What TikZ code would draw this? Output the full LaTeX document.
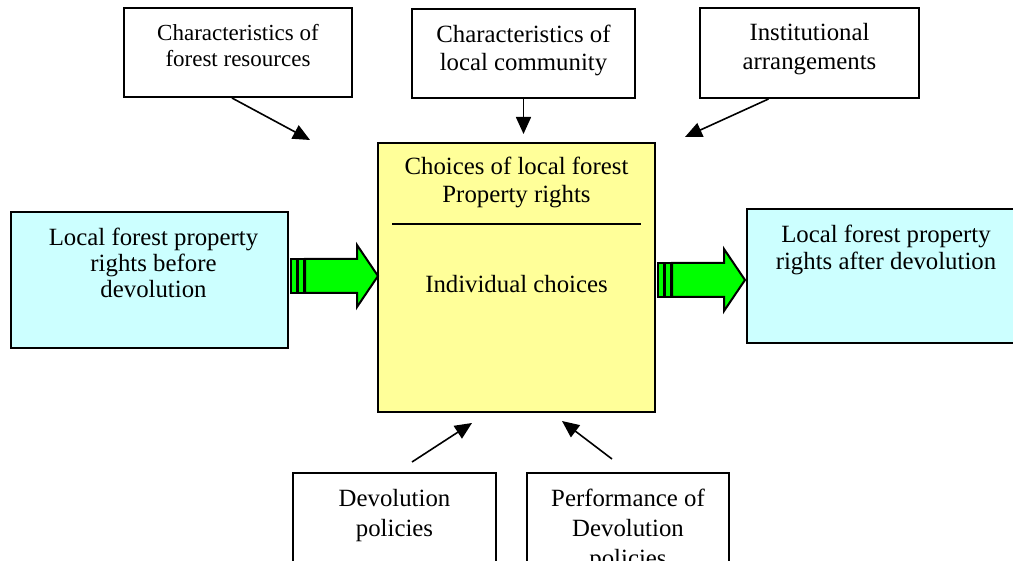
\documentclass[tikz,border=0pt]{standalone}
\usepackage{fontspec}
\setmainfont{Liberation Serif}
\usepackage{tikz}
\usetikzlibrary{arrows.meta, positioning, fit, calc}
\definecolor{rcyan}{RGB}{204,255,255}
\definecolor{ryellow}{RGB}{255,255,153}
\definecolor{rgreen}{RGB}{0,255,0}

\begin{document}
\begin{tikzpicture}[
  x=0.5pt,y=-0.5pt,
  box/.style={draw=black,line width=1pt,inner sep=0pt},
  txt/.style={align=center,inner sep=0pt,anchor=north,
              font=\fontsize{12.4}{14}\selectfont},
  con/.style={-{Triangle[length=8.5pt,width=7.5pt]},line width=0.8pt},
  fat/.style={draw=black,fill=rgreen,line width=1pt,line join=miter}
]
  \useasboundingbox (0,0) rectangle (1013,561);
  % outer boxes
  \node[box,fit={(124,8) (352,97)}] (res) {};
  \node[box,fit={(412,9) (635,98)}] (com) {};
  \node[box,fit={(700,8) (919,98)}] (ins) {};
  \node[box,fill=rcyan,fit={(11,212) (288,348)}] (lb) {};
  \node[box,fill=ryellow,fit={(378,143) (655,412)}] (cb) {};
  \node[box,fill=rcyan,fit={(747,209) (1025,343)}] (rb) {};
  \node[box,fit={(293,473) (496,600)}] (dp) {};
  \node[box,fit={(527,473) (729,600)}] (pd) {};
  % texts
  \node[txt,font=\fontsize{11.5}{13}\selectfont] (resT) at ($(res.north)+(0,17)$)
    {Characteristics of\\forest resources};
  \node[txt] (comT) at ($(com.north)+(0,17)$) {Characteristics of\\local community};
  \node[txt,font=\fontsize{12.4}{14.5}\selectfont] (insT) at ($(ins.north)+(0,16)$)
    {Institutional\\arrangements};
  \node[txt,font=\fontsize{12.4}{13}\selectfont] (lbT) at ($(lb.north)+(4,17)$)
    {Local forest property\\rights before\\devolution};
  \node[txt] (cbT) at ($(cb.north)+(0,15)$) {Choices of local forest\\Property rights};
  \node[txt] (cbI) at ($(cb.north)+(0,133)$) {Individual choices};
  \node[txt,font=\fontsize{12.4}{13.5}\selectfont] (rbT) at ($(rb.north)+(0,17)$)
    {Local forest property\\rights after devolution};
  \node[txt,font=\fontsize{12.4}{15}\selectfont] (dpT) at ($(dp.north)+(0,17)$)
    {Devolution\\policies};
  \node[txt,font=\fontsize{12.4}{15}\selectfont] (pdT) at ($(pd.north)+(0,17)$)
    {Performance of\\Devolution\\policies};
  \draw[line width=1pt] ($(cb.north west)+(15,82)$) -- ($(cb.north east)+(-15,82)$);
  % free arrow ends
  \coordinate (e1) at (310,140);
  \coordinate (e2) at (523.5,134);
  \coordinate (e3) at (685,137);
  \coordinate (s4) at (412,462);
  \coordinate (e4) at (472,423);
  \coordinate (s5) at (612,459);
  \coordinate (e5) at (562,421);
  \draw[con] ($(res.south)+(-6,0)$) -- (e1);
  \draw[con] (com.south) -- (e2);
  \draw[con] ($(ins.south)+(-41,0)$) -- (e3);
  \foreach \a/\b in {s4/e4,s5/e5}
    \draw[con] (\a) -- (\b);
  % green block arrows
  \foreach \a/\dy in {lb/-4,cb/2.5}{
    \begin{scope}[shift={($(\a.east)+(2,\dy)$)}]
      \draw[fat] (0,-17) rectangle (6,17);
      \draw[fat] (7,-17) rectangle (13,17);
      \draw[fat] (14,-17) -- (66,-17) -- (66,-31) -- (87,0) -- (66,31)
        -- (66,17) -- (14,17) -- cycle;
    \end{scope}
  }
\end{tikzpicture}
\end{document}
